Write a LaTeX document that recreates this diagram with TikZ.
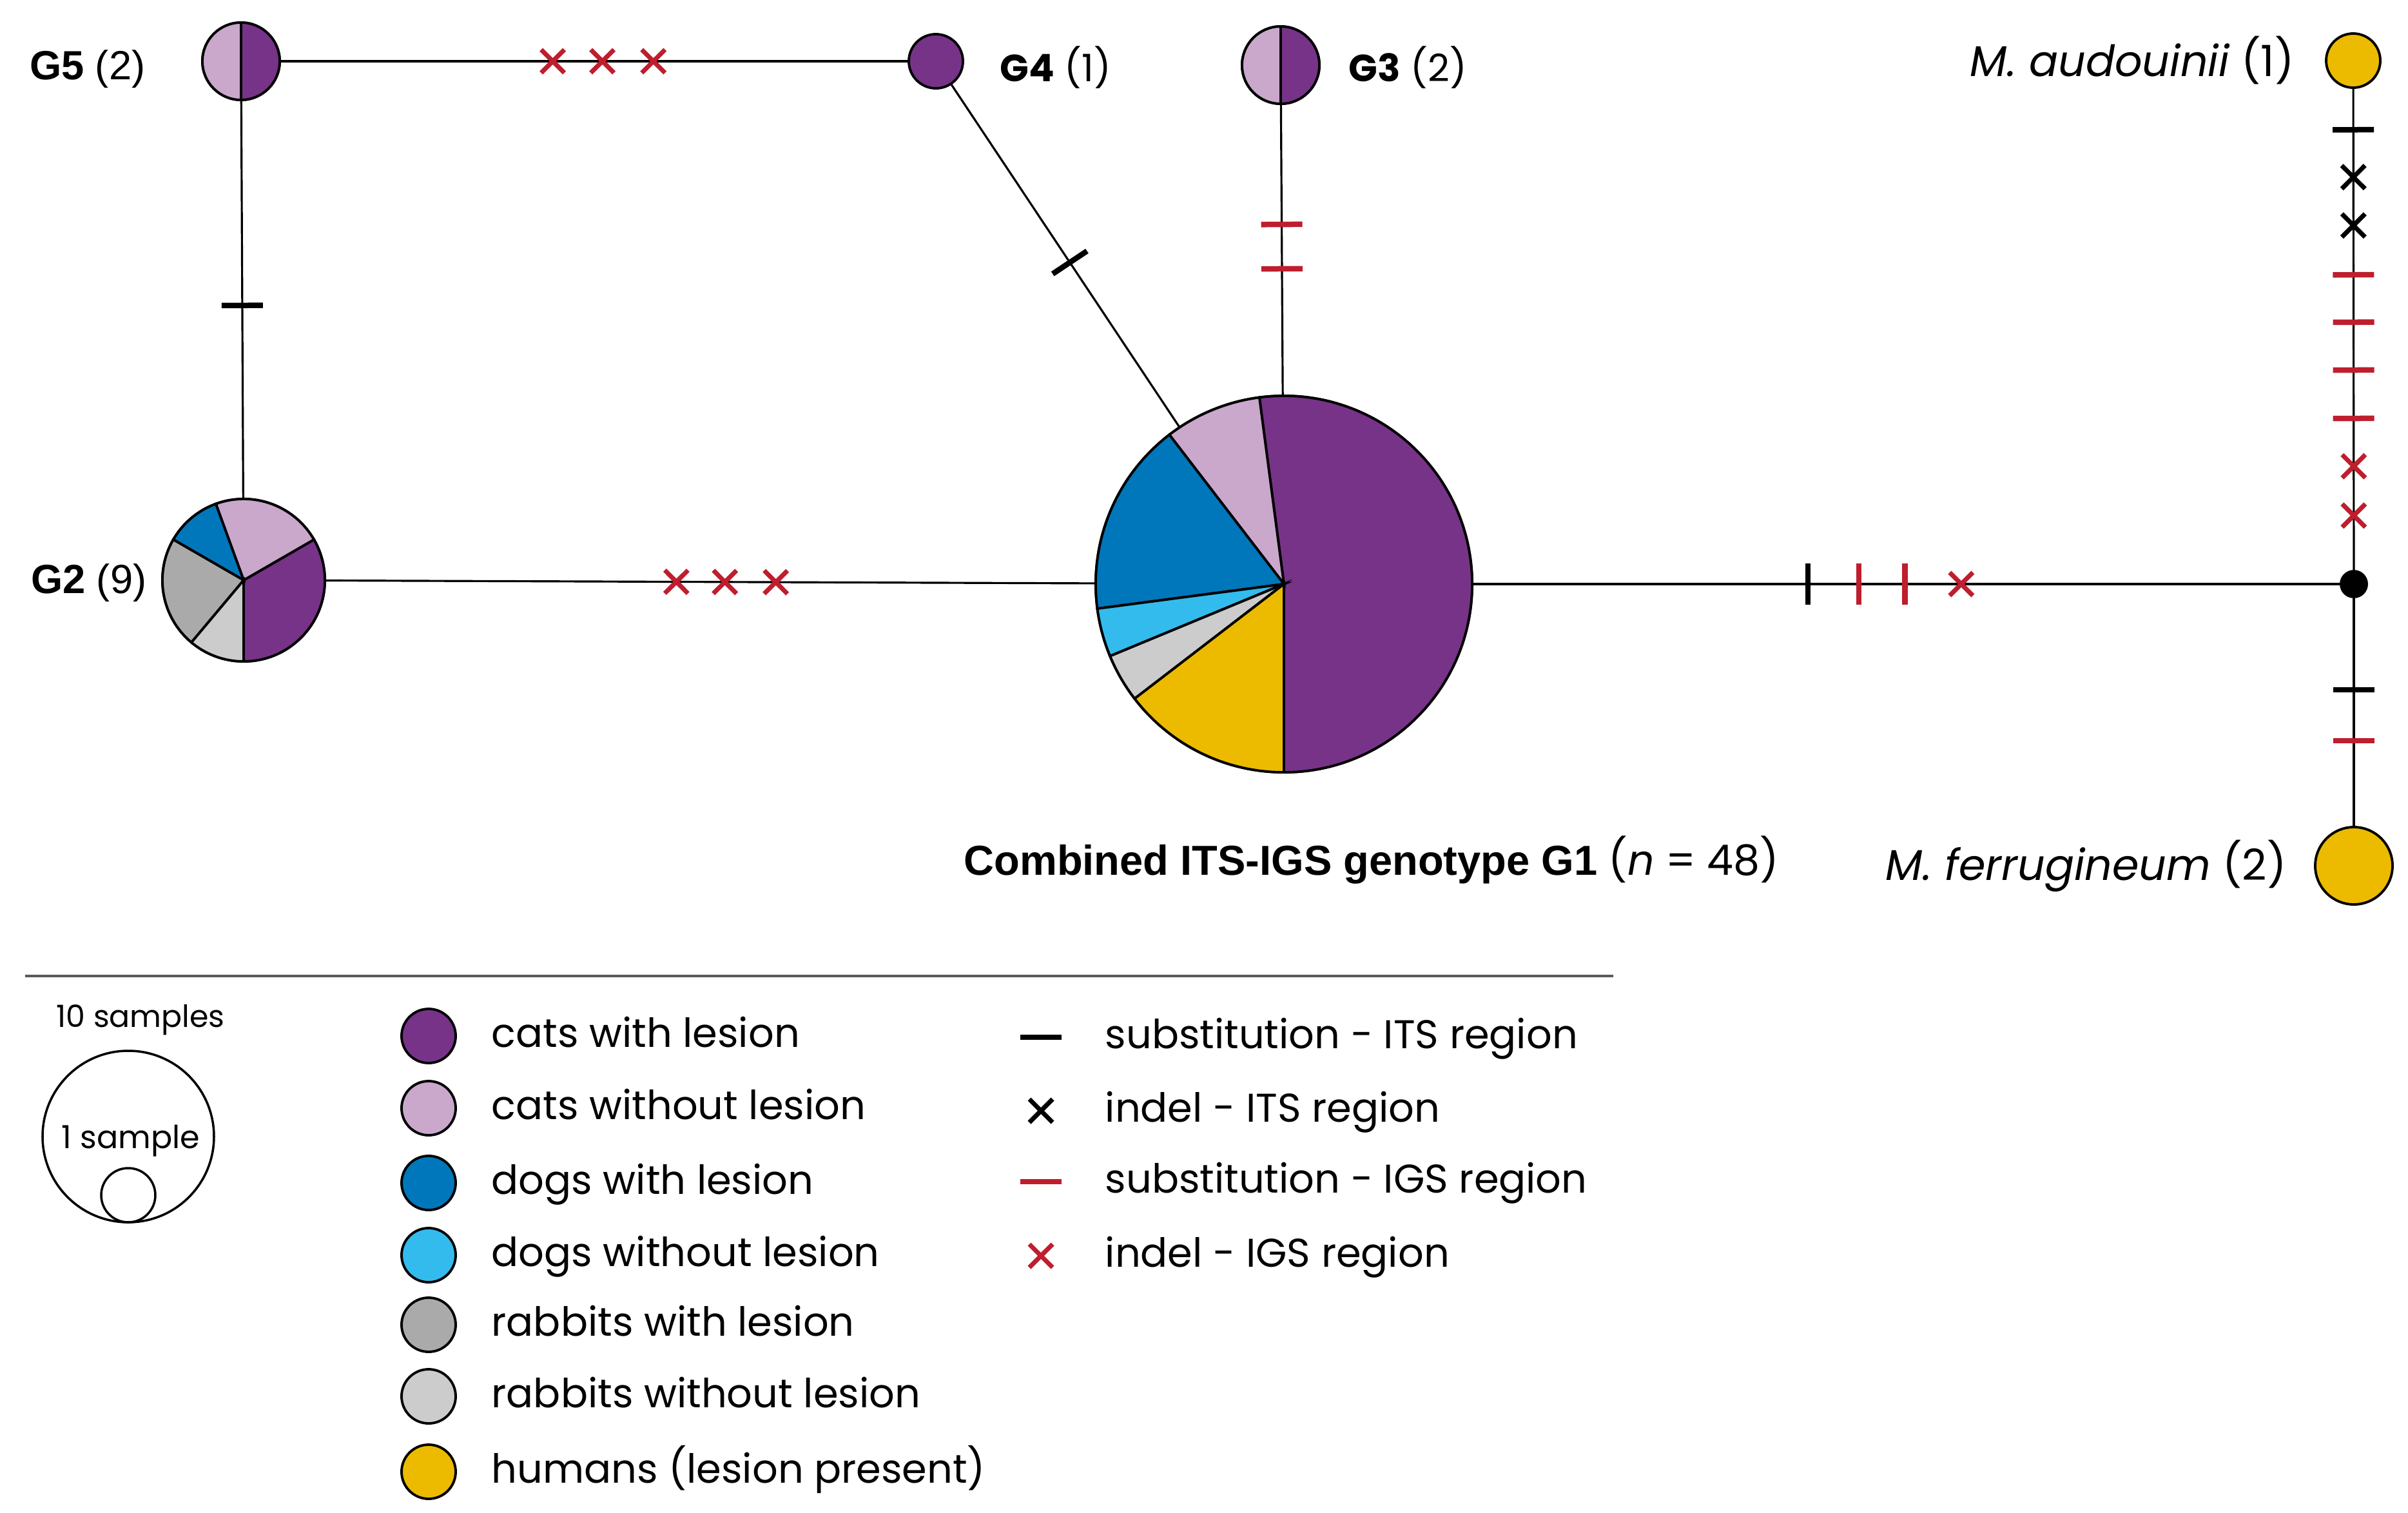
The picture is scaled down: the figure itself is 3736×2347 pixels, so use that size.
\documentclass[tikz,border=0pt]{standalone}
\usepackage{fontspec}
\setmainfont{Poppins}
\newfontfamily\arialfont{Liberation Sans}
\usetikzlibrary{positioning,shapes.misc}

\definecolor{catlesion}{RGB}{119,51,136}
\definecolor{catnolesion}{RGB}{201,168,204}
\definecolor{doglesion}{RGB}{0,119,187}
\definecolor{dognolesion}{RGB}{51,187,238}
\definecolor{rablesion}{RGB}{170,170,170}
\definecolor{rabnolesion}{RGB}{204,204,204}
\definecolor{human}{RGB}{236,187,0}
\definecolor{igsred}{RGB}{190,30,45}

\tikzset{hap/.style={circle,draw,line width=1.1pt,inner sep=0pt,outer sep=0pt},
         link/.style={line width=0.9pt,every node/.append style={sloped}},
         subits/.style={rectangle,fill=black,inner sep=0pt,minimum width=0.85mm,minimum height=6.4mm},
         subigs/.style={subits,fill=igsred},
         indits/.style={cross out,draw=black,line width=2pt,inner sep=0pt,minimum size=2.9mm},
         indigs/.style={indits,draw=igsred},
         hapname/.style={inner sep=0pt,font=\fontsize{16.7}{20}\selectfont},
         legtext/.style={inner sep=0pt,font=\fontsize{17.7}{21}\selectfont,anchor=mid west,yshift=-0.8mm}}

% pie slice: centre node, radius, start, end, colour
\newcommand\slice[5]{%
  \filldraw[fill=#5,line width=1.1pt] (#1.center) -- ++(#3:#2) arc[start angle=#3,end angle=#4,radius=#2] -- cycle;}

\begin{document}
\begin{tikzpicture}[x=0.1mm,y=0.1mm]
  \useasboundingbox (0,0) rectangle (3736,-2347);

  % haplotypes
  \node[hap,minimum size=12mm]   (G5)   at (374,-95)   {};
  \node[hap,minimum size=8.4mm,fill=catlesion] (G4) at (1452,-95) {};
  \node[hap,minimum size=12mm]   (G3)   at (1987,-101) {};
  \node[hap,minimum size=25.2mm] (G2)   at (378,-900)  {};
  \node[hap,minimum size=58.4mm] (G1)   at (1992,-906) {};
  \node[hap,minimum size=8.4mm,fill=human] (aud)  at (3651,-94)  {};
  \node[hap,minimum size=4mm,fill=black]   (hub)  at (3652,-906) {};
  \node[hap,minimum size=12mm,fill=human]  (ferr) at (3652,-1343) {};

  % links and mutations
  \draw[link] (G5) -- (G4) node[indigs,pos=.434] {} node[indigs,pos=.513] {} node[indigs,pos=.594] {};
  \draw[link] (G5) -- (G2) node[subits,pos=.515] {};
  \draw[link] (G4) -- (G1) node[subits,pos=.52] {};
  \draw[link] (G3) -- (G1) node[subigs,pos=.413] {} node[subigs,pos=.565] {};
  \draw[link] (G2) -- (G1) node[indigs,pos=.456] {} node[indigs,pos=.519] {} node[indigs,pos=.585] {};
  \draw[link] (G1) -- (hub) node[subits,pos=.3865] {} node[subigs,pos=.445] {}
                            node[subigs,pos=.498] {} node[indigs,pos=.563] {};
  \draw[link] (aud) -- (hub) node[subits,pos=.087] {} node[indits,pos=.185] {} node[indits,pos=.285] {}
                             node[subigs,pos=.387] {} node[subigs,pos=.485] {} node[subigs,pos=.584] {}
                             node[subigs,pos=.684] {} node[indigs,pos=.783] {} node[indigs,pos=.885] {};
  \draw[link] (hub) -- (ferr) node[subits,pos=.403] {} node[subigs,pos=.625] {};

  % pies
  \slice{G5}{60}{-90}{90}{catlesion}
  \slice{G5}{60}{90}{270}{catnolesion}
  \slice{G3}{60}{-90}{90}{catlesion}
  \slice{G3}{60}{90}{270}{catnolesion}

  \slice{G2}{126}{-90}{30}{catlesion}
  \slice{G2}{126}{30}{110}{catnolesion}
  \slice{G2}{126}{110}{150}{doglesion}
  \slice{G2}{126}{150}{230}{rablesion}
  \slice{G2}{126}{230}{270}{rabnolesion}

  \slice{G1}{292}{-90}{97.5}{catlesion}
  \slice{G1}{292}{97.5}{127.5}{catnolesion}
  \slice{G1}{292}{127.5}{187.5}{doglesion}
  \slice{G1}{292}{187.5}{202.5}{dognolesion}
  \slice{G1}{292}{202.5}{217.5}{rabnolesion}
  \slice{G1}{292}{217.5}{270}{human}

  % labels
  \node[hapname,font=\fontsize{18}{22}\selectfont,left=8.8mm of G5,yshift=-1.2mm] {\arialfont\textbf{G5} (2)};
  \node[hapname,font=\fontsize{18}{22}\selectfont,left=2.4mm of G2,yshift=-0.4mm] {\arialfont\textbf{G2} (9)};
  \node[hapname,right=5.7mm of G4,yshift=-1mm]   {\textbf{G4} (1)};
  \node[hapname,right=4.5mm of G3,yshift=-0.4mm] {\textbf{G3} (2)};
  \node[hapname,font=\fontsize{19}{23}\selectfont,left=4.9mm of aud]  {\textit{M. audouinii} (1)};
  \node[hapname,font=\fontsize{19}{23}\selectfont,left=4.4mm of ferr] {\textit{M. ferrugineum} (2)};
  \node[hapname,font=\fontsize{18.5}{22}\selectfont,anchor=mid west] (title) at (1495,-1348)
       {{\arialfont\bfseries Combined ITS-IGS genotype G1} (\textit{n} = 48)};

  % legend
  \draw[line width=0.9pt,black!65] (39,-1514) -- (2503,-1514);

  \node[hap,minimum size=26.6mm,line width=1pt] (big) at (199,-1763) {};
  \node[hap,minimum size=8.4mm,line width=1pt,anchor=south] (small) at (big.south) {};
  \node[font=\fontsize{13.5}{16}\selectfont] at (218,-1582) {10 samples};
  \node[font=\fontsize{14}{16}\selectfont] at (203,-1770) {1 sample};

  \foreach \y/\col/\txt in {1607/catlesion/cats with lesion,
                            1719/catnolesion/cats without lesion,
                            1835/doglesion/dogs with lesion,
                            1947/dognolesion/dogs without lesion,
                            2055/rablesion/rabbits with lesion,
                            2166/rabnolesion/rabbits without lesion,
                            2283/human/humans (lesion present)} {
    \node[hap,minimum size=8.4mm,fill=\col] (key-\col) at (665,-\y) {};
    \node[legtext] at (762,-\y) {\txt};
  }

  \node[subits,rotate=90] (key-subits) at (1615,-1609) {};
  \node[indits]           (key-indits) at (1615,-1723) {};
  \node[subigs,rotate=90] (key-subigs) at (1615,-1833) {};
  \node[indigs]           (key-indigs) at (1615,-1948) {};
  \node[legtext] at (1714,-1609) {substitution - ITS region};
  \node[legtext] at (1714,-1723) {indel - ITS region};
  \node[legtext] at (1714,-1833) {substitution - IGS region};
  \node[legtext] at (1714,-1948) {indel - IGS region};
\end{tikzpicture}
\end{document}
